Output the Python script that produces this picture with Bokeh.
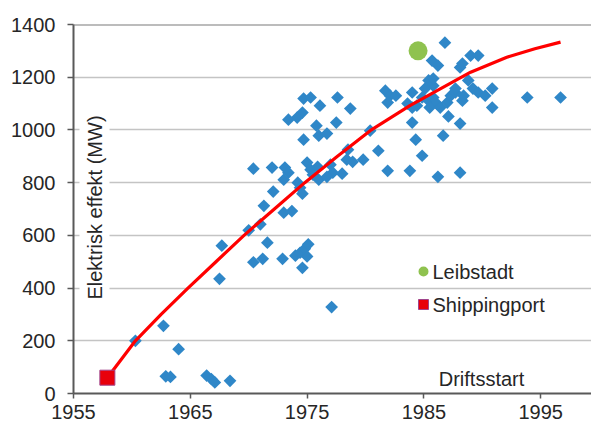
import numpy as np
from bokeh.plotting import figure
from bokeh.models import Range1d, FixedTicker, Label, Span
from bokeh.embed import file_html
from bokeh.resources import INLINE

FONT = "Liberation Sans"
TEXT = "#262626"
FONT_SIZE = "20px"

# Reactors: year of commercial start and net electrical output (MW)
start_year = [
    1960.3, 1962.7, 1962.9, 1963.3, 1964.0, 1966.4, 1966.8, 1967.1, 1968.4, 1967.5,
    1967.7, 1970.0, 1971.0, 1971.6, 1970.4, 1971.2, 1972.9, 1972.1, 1971.3, 1973.0,
    1973.7, 1974.0, 1974.4, 1974.8, 1975.1, 1975.0, 1974.6, 1974.2, 1974.4, 1974.6,
    1976.0, 1977.1,
    1974.7, 1975.3, 1976.1, 1977.6, 1974.6, 1974.15, 1973.4, 1975.8, 1977.5, 1976.0,
    1976.7, 1974.7, 1970.4, 1972.0, 1973.1, 1973.4, 1975.0, 1975.3, 1975.9, 1975.5,
    1977.0, 1977.2, 1976.7, 1973.0, 1978.7, 1978.4, 1978.9, 1978.0, 1979.8, 1978.5,
    1980.4, 1981.1, 1981.9,
    1981.7, 1982.1, 1982.6, 1981.9, 1984.0, 1983.6, 1984.0, 1984.4, 1984.85, 1985.4,
    1985.8, 1986.1, 1985.5, 1986.4, 1987.0, 1987.3, 1987.7, 1985.8, 1985.4, 1984.0,
    1987.1, 1984.3, 1986.65, 1984.85, 1983.8, 1986.2, 1988.1, 1988.1, 1986.8, 1985.7,
    1986.2, 1988.1, 1988.3, 1989.0, 1989.65, 1985.8, 1988.8, 1987.7, 1989.2, 1989.65,
    1990.25, 1990.85, 1988.3, 1988.4, 1990.85, 1993.85, 1996.7, 1985.1,
]
output_mw = [
    200, 257, 65, 63, 168, 68, 55, 42, 48, 435,
    561, 619, 642, 572, 498, 511, 511, 766, 712, 686,
    692, 523, 534, 549, 566, 520, 477, 800, 781, 758,
    811, 328,
    1119, 1123, 1092, 1123, 1066, 1047, 1039, 1016, 1028, 978,
    986, 963, 853, 857, 857, 838, 876, 849, 860, 830,
    868, 838, 822, 811, 1081, 887, 879, 834, 887, 925,
    997, 921, 845,
    1149, 1130, 1130, 1104, 1142, 1100, 1085, 1092, 1123, 1111,
    1123, 1100, 1085, 1085, 1104, 1130, 1142, 1168, 1188, 1028,
    1051, 963, 978, 902, 845, 822, 838, 1024, 1331, 1263,
    1244, 1237, 1252, 1282, 1282, 1195, 1188, 1157, 1157, 1142,
    1130, 1157, 1111, 1130, 1085, 1123, 1123, 1157,
]

# Trend of output against start year
trend_year = [1957.9, 1960.3, 1962.5, 1964.8, 1967.2, 1969.6, 1972.2, 1974.8,
              1977.6, 1980.4, 1983.8, 1986.4, 1989.0, 1992.1, 1994.5, 1996.7]
trend_mw = [60, 200, 300, 400, 500, 600, 700, 800,
            900, 997, 1092, 1156, 1219, 1276, 1308, 1333]

# Highlighted plants
leibstadt_year = [1984.5]
leibstadt_mw = [1300]
shippingport_year = [1957.9]
shippingport_mw = [60]

x_ticks = [1955, 1965, 1975, 1985, 1995]
y_ticks = [0, 200, 400, 600, 800, 1000, 1200, 1400]

BLUE = "#2f87c8"
GREEN = "#8fc24f"
RED = "#e8000b"

FRAME_W, FRAME_H = 518, 369

p = figure(
    frame_width=FRAME_W, frame_height=FRAME_H,
    x_range=Range1d(1955, 1999.35), y_range=Range1d(0, 1400),
    output_backend="svg", toolbar_location=None,
    min_border_left=73, min_border_right=0, min_border_top=24, min_border_bottom=33,
    background_fill_color="white", border_fill_color="white",
)
p.outline_line_color = None

# pixel-based ranges for placing annotations inside the frame
p.extra_x_ranges = {"px": Range1d(0, FRAME_W)}
p.extra_y_ranges = {"py": Range1d(0, FRAME_H)}

p.xaxis.ticker = FixedTicker(ticks=x_ticks)
p.yaxis.ticker = FixedTicker(ticks=y_ticks)
for ax in (p.xaxis[0], p.yaxis[0]):
    ax.axis_line_color = "#595959"
    ax.axis_line_width = 2
    ax.major_tick_line_color = "#595959"
    ax.major_tick_line_width = 1.5
    ax.major_tick_in = 0
    ax.minor_tick_line_color = None
    ax.major_label_text_font = FONT
    ax.major_label_text_font_size = FONT_SIZE
    ax.major_label_text_color = TEXT
p.xaxis.major_tick_out = 5
p.xaxis.major_label_standoff = 6
p.yaxis.major_tick_out = 6
p.yaxis.major_label_standoff = 12

p.xgrid.visible = False
p.ygrid.grid_line_color = "#c4c4c4"
p.ygrid.grid_line_width = 1.6
p.add_layout(Span(location=1400, dimension="width", line_color="#7a7a7a", line_width=2))

# axis title drawn inside the frame with a white box behind it
p.add_layout(Label(
    x=21, y=186, x_range_name="px", y_range_name="py",
    text="Elektrisk effekt (MW)", angle=np.pi / 2,
    text_align="center", text_baseline="middle",
    text_font=FONT, text_font_size=FONT_SIZE, text_color=TEXT,
    background_fill_color="white", padding=4,
))

p.scatter(start_year, output_mw, marker="square", angle=np.pi / 4, size=9,
          fill_color=BLUE, line_color=None)
p.line(trend_year, trend_mw, line_color="#ff0000", line_width=3.2)
p.scatter(shippingport_year, shippingport_mw, marker="square", size=15,
          fill_color=RED, line_color="#a0448c", line_width=1)
p.scatter(leibstadt_year, leibstadt_mw, marker="circle", size=19,
          fill_color=GREEN, line_color=None)

# legend
p.scatter([350], [122], x_range_name="px", y_range_name="py", marker="circle",
          size=10, fill_color=GREEN, line_color=None)
p.scatter([350], [89], x_range_name="px", y_range_name="py", marker="square",
          size=10, fill_color=RED, line_color="#a0448c", line_width=1)
for ty, txt in ((122, "Leibstadt"), (89, "Shippingport")):
    p.add_layout(Label(x=359, y=ty, x_range_name="px", y_range_name="py", text=txt,
                       text_align="left", text_baseline="middle",
                       text_font=FONT, text_font_size=FONT_SIZE, text_color=TEXT))

p.add_layout(Label(x=408, y=15, x_range_name="px", y_range_name="py", text="Driftsstart",
                   text_align="center", text_baseline="middle",
                   text_font=FONT, text_font_size=FONT_SIZE, text_color=TEXT))

open("out.html", "w").write(file_html(p, INLINE))
